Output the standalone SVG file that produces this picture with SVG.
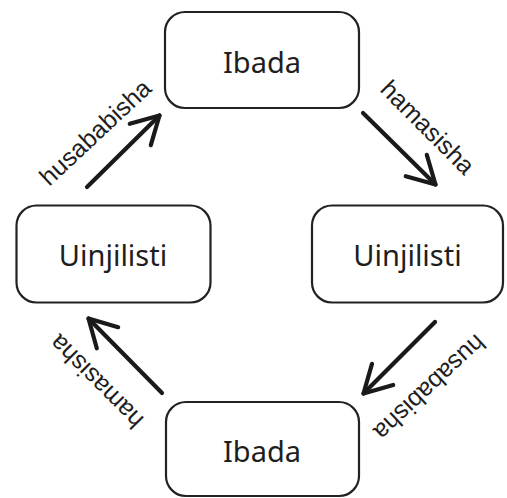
<svg xmlns="http://www.w3.org/2000/svg" width="507" height="498" viewBox="0 0 507 498">
<style>
.box{fill:#fff;stroke:#222;stroke-width:2.2}
.nt{font-family:"Noto Sans","Open Sans",sans-serif;font-size:29px;fill:#1e1e1e;text-anchor:middle}
.lb{font-family:"Liberation Sans",Arial,sans-serif;font-size:25px;fill:#1e1e1e;text-anchor:middle;dominant-baseline:central}
.ar{stroke:#1a1a1a;stroke-width:4.2;fill:none;stroke-linecap:round;marker-end:url(#ah)}
</style>
<defs>
<marker id="ah" markerUnits="userSpaceOnUse" viewBox="-34 -20 40 40" refX="0" refY="0" markerWidth="40" markerHeight="40" orient="auto">
<path d="M-27,-15 L0,0 L-27,15" fill="none" stroke="#1a1a1a" stroke-width="4.2" stroke-linecap="round" stroke-linejoin="round"/>
</marker>
</defs>
<rect width="507" height="498" fill="#fff"/>
<g id="connectors">
<line class="ar" x1="87" y1="187" x2="159.5" y2="115.5"/>
<line class="ar" x1="363" y1="113" x2="435.5" y2="184.5"/>
<line class="ar" x1="162" y1="393" x2="88.5" y2="318.5"/>
<line class="ar" x1="435" y1="322" x2="363.5" y2="393.5"/>
<text class="lb" transform="translate(95,132) rotate(-43)">husababisha</text>
<text class="lb" transform="translate(428,127) rotate(45)">hamasisha</text>
<text class="lb" transform="translate(96,382) rotate(225)">hamasisha</text>
<text class="lb" transform="translate(430,388) rotate(137)">husababisha</text>
</g>
<g id="node-top">
<rect class="box" x="165" y="12" width="194" height="96" rx="20"/>
<text class="nt" x="262" y="73">Ibada</text>
</g>
<g id="node-left">
<rect class="box" x="16.5" y="205.5" width="194" height="97" rx="20"/>
<text class="nt" x="113" y="266">Uinjilisti</text>
</g>
<g id="node-right">
<rect class="box" x="312" y="205.5" width="191" height="97" rx="20"/>
<text class="nt" x="407.5" y="266">Uinjilisti</text>
</g>
<g id="node-bottom">
<rect class="box" x="166" y="402" width="193" height="94" rx="20"/>
<text class="nt" x="262" y="462">Ibada</text>
</g>
</svg>
